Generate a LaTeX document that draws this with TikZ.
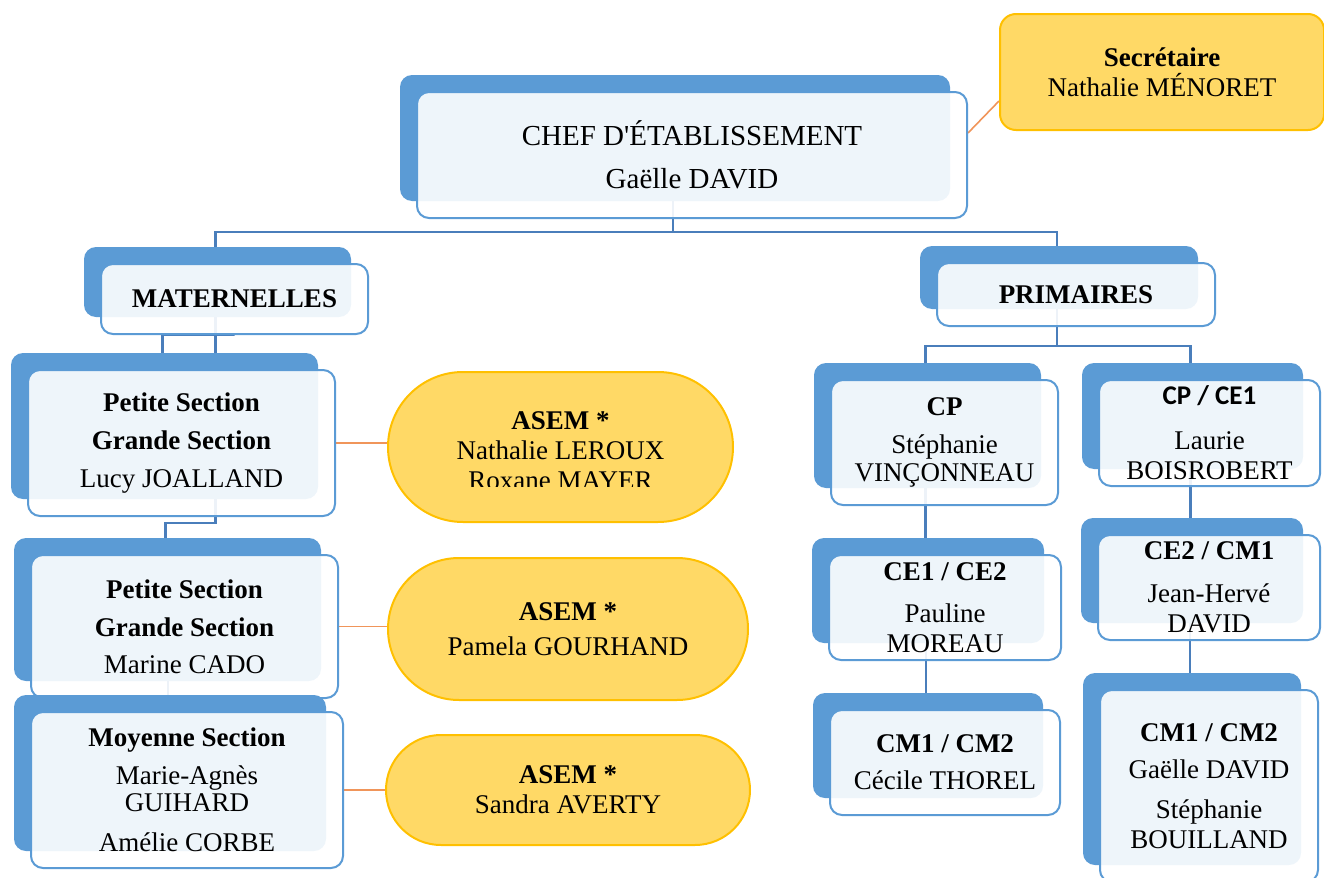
\documentclass[tikz,border=0pt]{standalone}
\usepackage{fontspec}
\setmainfont{Liberation Serif}
\newfontfamily\calibfont{Carlito}
\usepackage{tikz}
\usetikzlibrary{shapes.misc,shadows,backgrounds}
\definecolor{backblue}{HTML}{5B9BD5}
\definecolor{edgeblue}{HTML}{5B9BD5}
\definecolor{linkblue}{HTML}{4A7EBB}
\definecolor{asemfill}{HTML}{FFD966}
\definecolor{asemedge}{HTML}{FFC000}
\definecolor{orangeline}{HTML}{F0955A}

\begin{document}
\begin{tikzpicture}[x=0.5pt,y=-0.5pt,
	font=\fontsize{13.5}{15}\selectfont,
	unit/.style={draw=edgeblue,line width=1pt,fill=white,fill opacity=0.9,text opacity=1,
		rounded corners=6pt,align=center,inner sep=0pt,
		general shadow={shadow xshift=-8.5pt,shadow yshift=8.5pt,fill=backblue,fill opacity=1}},
	asem/.style={rounded rectangle,draw=asemedge,line width=1pt,fill=asemfill,align=center,inner sep=0pt},
	link/.style={draw=linkblue,line width=1.2pt},
	aide/.style={draw=orangeline,line width=0.8pt}]
	\useasboundingbox (0,0) rectangle (1324,878);
	% direction
	\node[unit,minimum width=275pt,minimum height=63pt,font=\fontsize{14.5}{15}\selectfont] (chef) at (692,155) {CHEF D\textquotesingle ÉTABLISSEMENT\\[6.5pt] Gaëlle DAVID};
	\node[draw=asemedge,line width=1pt,fill=asemfill,rounded corners=8pt,align=center,
	minimum width=162pt,minimum height=58pt] (sec) at (1162,72) {\textbf{Secrétaire}\\ Nathalie MÉNORET};
	\node[unit,minimum width=133.5pt,minimum height=35pt] (mat) at (234.5,299) {\textbf{MATERNELLES}};
	\node[unit,minimum width=139pt,minimum height=31.5pt] (prim) at (1076,294.5) {\textbf{PRIMAIRES}};
	%% maternelles
	\node[unit,minimum width=153.5pt,minimum height=73pt] (ps1) at (181.5,443) {\textbf{Petite Section}\\[4pt] \textbf{Grande Section}\\[4pt] Lucy JOALLAND};
	\node[unit,minimum width=153.5pt,minimum height=71.5pt] (ps2) at (184.5,626.5) {\textbf{Petite Section}\\[4pt] \textbf{Grande Section}\\[3.5pt] Marine CADO};
	\node[unit,minimum width=156pt,minimum height=78pt] (ms) at (187,790) {\textbf{Moyenne Section}\\[4pt] Marie-Agnès\\[-1.5pt] GUIHARD\\[5pt] Amélie CORBE};
	\node[asem,minimum width=172.5pt,minimum height=75pt] (asemA) at (560.5,447) {};
	\begin{scope}
		\clip ([xshift=-2pt]asemA.west |- asemA.north) rectangle ([yshift=-19.5pt]asemA.east);
		\node[align=center] (asemAtxt) at ([yshift=-2pt]asemA.center) {\textbf{ASEM *}\\ Nathalie LEROUX\\ Roxane MAYER};
	\end{scope}
	\node[asem,minimum width=180pt,minimum height=71pt] (asemB) at (568,629) {\textbf{ASEM *}\\[2.5pt] Pamela GOURHAND};
	\node[asem,minimum width=182pt,minimum height=55pt] (asemC) at (568,790) {\textbf{ASEM *}\\ Sandra AVERTY};
	%% primaires
	\node[unit,minimum width=113.5pt,minimum height=62.5pt] (cp) at (944.5,442.5) {\textbf{CP}\\[4pt] Stéphanie\\[-1pt] VINÇONNEAU};
	\node[unit,minimum width=116pt,minimum height=52.5pt] (ce) at (945,607.5) {\textbf{CE1 / CE2}\\[6pt] Pauline\\ MOREAU};
	\node[unit,minimum width=115pt,minimum height=52.5pt] (cmA) at (945,762.5) {\textbf{CM1 / CM2}\\[3.5pt] Cécile THOREL};
	\node[unit,minimum width=110.5pt,minimum height=53pt] (cpce) at (1209.5,433) {{\calibfont\bfseries CP / CE1}\\[7.5pt] Laurie\\ BOISROBERT};
	\node[unit,minimum width=111pt,minimum height=52.5pt] (cecm) at (1209,587.5) {\textbf{CE2 / CM1}\\[6.5pt] Jean-Hervé\\ DAVID};
	\node[unit,minimum width=109pt,minimum height=96pt] (cmB) at (1209,786) {\textbf{CM1 / CM2}\\[3.5pt] Gaëlle DAVID\\[5pt] Stéphanie\\ BOUILLAND};
	%% the connectors
	\begin{pgfonlayer}{background}
		\draw[link] ([xshift=-9.5pt]chef.center) |- ([yshift=-6.5pt]chef.south) -| ([xshift=-9.5pt]mat.north);
		\draw[link] ([xshift=-9.5pt]chef.center) |- ([yshift=-6.5pt]chef.south) -| ([xshift=-9.5pt]prim.north);
		\draw[link] ([xshift=-9.5pt]mat.center) |- (mat.south) -| ([xshift=-9.5pt]ps1.north);
		\draw[link] ([xshift=-9.5pt]mat.center) |- ([yshift=-3pt]ps1.south) -| ([xshift=-9.5pt]ps2.north);
		\draw[link] ([xshift=-9.5pt]ms.north |- ps2.center) -- ([xshift=-9.5pt]ms.north);
		\draw[link] ([xshift=-9.5pt]prim.center) |- ([yshift=-9.5pt]prim.south) -| ([xshift=-9.5pt]cp.north);
		\draw[link] ([xshift=-9.5pt]prim.center) |- ([yshift=-9.5pt]prim.south) -| ([xshift=-9.5pt]cpce.north);
		\draw[link] ([xshift=-9.5pt]cp.center) -- ([xshift=-9.5pt]cp.center |- ce.north);
		\draw[link] ([xshift=-9.5pt]ce.center) -- ([xshift=-9.5pt]ce.center |- cmA.north);
		\draw[link] ([xshift=-9.5pt]cpce.center) -- ([xshift=-9.5pt]cpce.center |- cecm.north);
		\draw[link] ([xshift=-9.5pt]cecm.center) -- ([xshift=-9.5pt]cecm.center |- cmB.north);
		\draw[aide] ([yshift=11pt]chef.east) -- ([yshift=-14.5pt]sec.west);
		\draw[aide] (ps1.east) -- (ps1.east -| asemA.west);
		\draw[aide] (ps2.east) -- (ps2.east -| asemB.west);
		\draw[aide] (ms.east) -- (ms.east -| asemC.west);
	\end{pgfonlayer}
\end{tikzpicture}
\end{document}
